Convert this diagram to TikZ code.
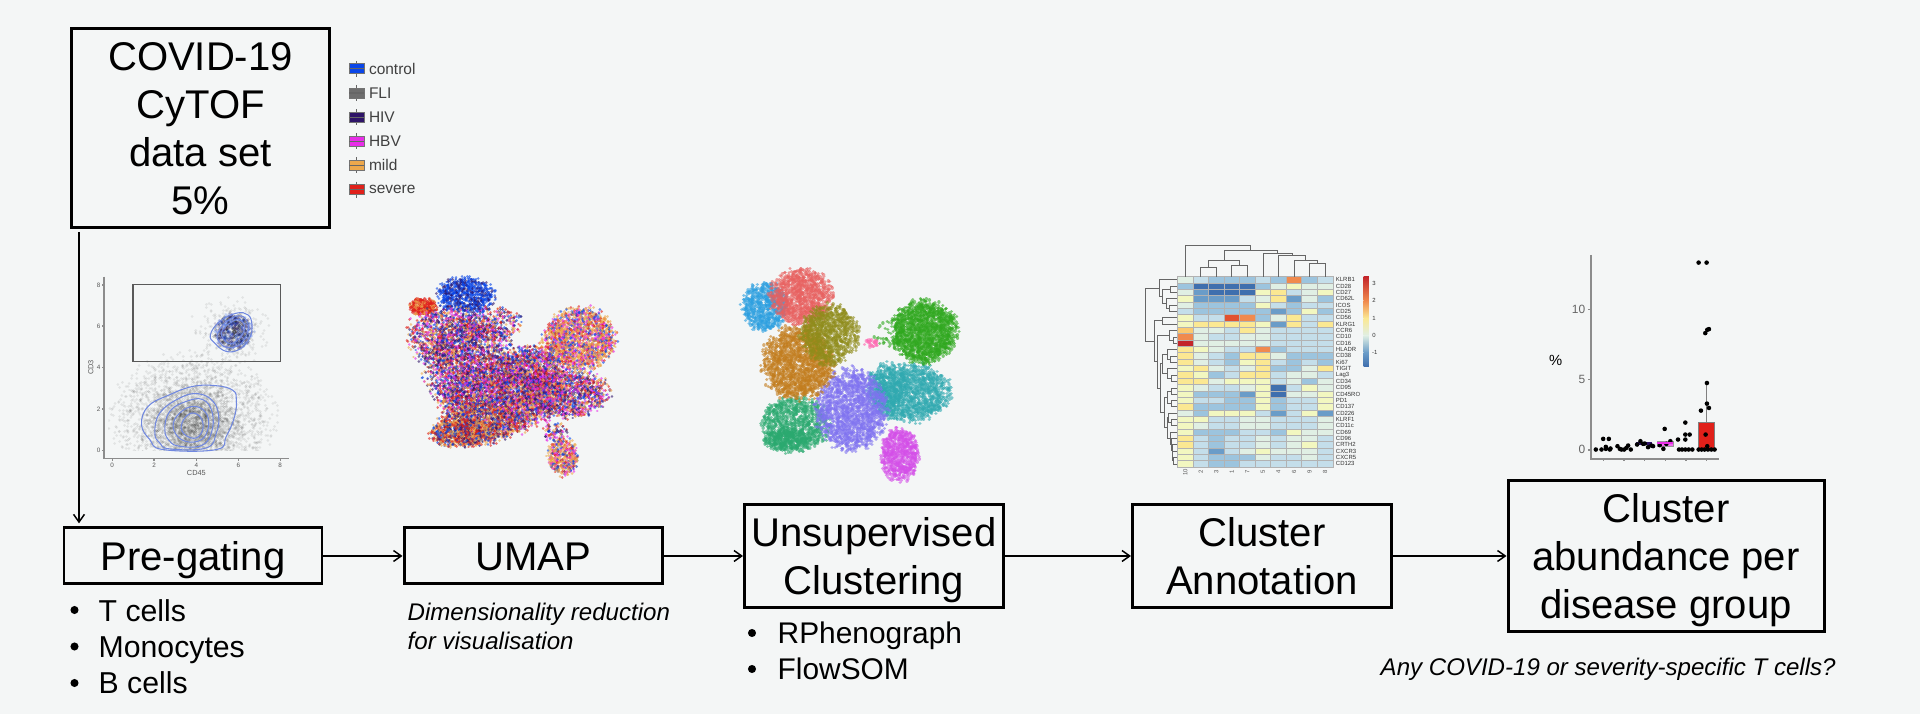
\documentclass[tikz,border=0pt]{standalone}
\usepackage{fontspec}
\setmainfont{Liberation Sans}
\usetikzlibrary{arrows.meta}
\definecolor{fond}{RGB}{244,246,246}
\definecolor{legbleu}{RGB}{10,70,232}
\definecolor{leggris}{RGB}{110,110,110}
\definecolor{legindigo}{RGB}{46,20,104}
\definecolor{legmagenta}{RGB}{232,45,232}
\definecolor{legorange}{RGB}{237,168,76}
\definecolor{legrouge}{RGB}{224,32,26}
\definecolor{contour}{RGB}{112,136,224}
\definecolor{clbleu}{RGB}{43,159,224}
\definecolor{clrouge}{RGB}{232,96,95}
\definecolor{clbrun}{RGB}{194,124,28}
\definecolor{clolive}{RGB}{143,140,26}
\definecolor{clvert}{RGB}{47,168,30}
\definecolor{clteal}{RGB}{47,169,176}
\definecolor{clviolet}{RGB}{127,114,240}
\definecolor{clmer}{RGB}{42,169,111}
\definecolor{clmauve}{RGB}{212,77,232}
\definecolor{clrose}{RGB}{255,102,176}
\definecolor{hma}{HTML}{3F6FAE}
\definecolor{hmb}{HTML}{6A9CC8}
\definecolor{hmc}{HTML}{9CC4DE}
\definecolor{hmd}{HTML}{C4DEEA}
\definecolor{hme}{HTML}{E0EFE4}
\definecolor{hmf}{HTML}{F2F7C0}
\definecolor{hmg}{HTML}{FBE892}
\definecolor{hmh}{HTML}{FBC96F}
\definecolor{hmi}{HTML}{F08A4E}
\definecolor{hmj}{HTML}{E2512F}
\definecolor{hmk}{HTML}{C3252A}
\newcommand{\melange}{legbleu,legrouge,legindigo,legmagenta,legorange}
\newcommand{\sombre}{legindigo,legrouge,legbleu,legindigo,legorange,legmagenta}
\newcommand{\clair}{legorange,legrouge,legorange,legbleu,legorange,legmagenta}
\newcommand{\chaud}{legrouge,legorange,legindigo,legrouge,legorange,legbleu}
\newcommand{\taille}{0.95pt}
\newcommand{\tours}{5}
\newcommand{\cale}{\rule{0pt}{0.39cm}}
% cx, cy, rx, ry, couleurs, points par lot
\newcommand{\nuage}[6]{%
  \foreach \tour in {1,...,\tours}{%
    \foreach \coul in #5{%
      \draw[\coul, line cap=round, line width=\taille]
        \foreach \k [evaluate=\k as \ang using 360*rnd, evaluate=\k as \ray using sqrt(rnd)*(0.78+0.30*rnd)] in {1,...,#6}{
          ({#1+#3*\ray*cos(\ang)},{#2+#4*\ray*sin(\ang)}) -- ++(0.01pt,0)
        };
    }}}
\tikzset{
  zoomplot/.style={x=0.0033333cm, y=-0.0033333cm},
  boite/.style={draw, line width=0.85pt, inner sep=0pt, align=center, font=\fontsize{11.4}{13.66}\selectfont,
    execute at begin node={\cale}, execute at end node={\rule[-0.10cm]{0pt}{0pt}}},
  fleche/.style={line width=0.42pt, -{Straight Barb[length=2.2pt,width=3.1pt]}},
  liste/.style={anchor=base west, inner sep=0pt, font=\fontsize{8.6}{10}\selectfont},
  puce/.style={circle, fill=black, inner sep=0pt, minimum size=2.3pt},
  remarque/.style={anchor=base west, inner sep=0pt, font=\fontsize{6.85}{8}\itshape\selectfont},
  legende/.style={anchor=west, inner sep=0pt, text=black!75, font=\fontsize{4.4}{5}\selectfont},
  petit/.style={inner sep=0pt, text=black!65, font=\fontsize{1.8}{2}\selectfont},
  axe/.style={draw=black!45, line width=0.4pt},
  dendro/.style={draw=black!60, line width=0.25pt},
  nuageux/.style={draw=contour, line width=0.3pt}
}

\begin{document}
\begin{tikzpicture}
    \fill[fond] (0,0) rectangle (19.2,7.14);
    \useasboundingbox (0,0) rectangle (19.2,7.14);

    % boites
    \node[boite, minimum width=2.58cm, minimum height=1.99cm] (covid) at (2.005,5.86) {\cale COVID-19\\CyTOF\\data set\\5\%};
    \node[boite, minimum width=2.58cm, minimum height=0.56cm] (pregating) at (1.93,1.58) {Pre-gating};
    \node[boite, minimum width=2.58cm, minimum height=0.56cm] (umap) at (5.33,1.58) {UMAP};
    \node[boite, minimum width=2.59cm, minimum height=1.03cm] (clustering) at (8.74,1.58) {\cale Unsupervised\\Clustering};
    \node[boite, minimum width=2.59cm, minimum height=1.03cm] (annotation) at (12.62,1.58) {\cale Cluster\\Annotation};
    \node[boite, minimum width=3.16cm, minimum height=1.51cm] (abundance) at (16.66,1.58) {\cale Cluster\\abundance per\\disease group};

    % fleches
    \coordinate (depart) at (0.79,4.82);
    \draw[fleche, shorten >=0.9pt] (depart) -- (depart |- pregating.north);
    \draw[fleche] (pregating) -- (umap);
    \draw[fleche] (umap) -- (clustering);
    \draw[fleche] (clustering) -- (annotation);
    \draw[fleche] (annotation) -- (abundance);

    % listes
    \node[puce] (pt) at (0.745,1.04) {};
    \node[liste] (tcells) at (0.98,0.92) {T cells};
    \node[puce] (pm) at (0.745,0.675) {};
    \node[liste] (monocytes) at (0.98,0.56) {Monocytes};
    \node[puce] (pb) at (0.745,0.31) {};
    \node[liste] (bcells) at (0.98,0.205) {B cells};
    \node[puce] (pr) at (7.52,0.81) {};
    \node[liste, font=\fontsize{8.5}{10}\selectfont] (rphenograph) at (7.77,0.705) {RPhenograph};
    \node[puce] (pf) at (7.52,0.45) {};
    \node[liste, font=\fontsize{8.5}{10}\selectfont] (flowsom) at (7.77,0.345) {FlowSOM};
    \node[remarque] (dimension) at (4.07,0.935) {Dimensionality reduction};
    \node[remarque] (visu) at (4.07,0.645) {for visualisation};
    \node[remarque] (question) at (13.80,0.38) {Any COVID-19 or severity-specific T cells?};

    % legende
    \begin{scope}[shift={(0.6,7.14)}, zoomplot]
      \foreach \nom/\teinte [count=\i] in {control/legbleu, FLI/leggris, HIV/legindigo, HBV/legmagenta, mild/legorange, severe/legrouge}{
        \pgfmathsetmacro{\yy}{207+72.6*(\i-1)}
        \draw[black!60, line width=0.2pt] (892,\yy-24) -- (892,\yy+24);
        \filldraw[fill=\teinte, draw=black!55, line width=0.25pt] (870,\yy-15) rectangle (915,\yy+15);
        \draw[black!60, line width=0.3pt] (870,\yy) -- (915,\yy);
        \node[legende] (leg\nom) at (927,\yy) {\nom};
      }
    \end{scope}

    % pre-gating
    \begin{scope}[shift={(0.70,4.54)}, zoomplot]
      \pgfmathsetseed{31}
      \renewcommand{\taille}{0.85pt}
      \renewcommand{\tours}{25}
      \begin{scope}[draw opacity=0.07]
        \begin{scope}
          \clip (115,250) rectangle (640,574);
          \nuage{370}{470}{250}{190}{{black}}{70}
          \nuage{370}{490}{150}{125}{{black}}{70}
          \nuage{375}{500}{85}{75}{{black}}{35}
        \end{scope}
        \nuage{480}{215}{125}{105}{{black}}{8}
        \begin{scope}[draw opacity=0.2]
          \nuage{492}{215}{58}{55}{{legindigo,legbleu,black}}{10}
        \end{scope}
      \end{scope}
      \draw[black!65, line width=0.4pt] (190,73) rectangle (633,305);
      \draw[nuageux] plot[smooth cycle, tension=0.7] coordinates {(215,495) (235,440) (300,405) (370,380) (440,378) (490,392) (500,420) (495,470) (470,530) (440,570) (280,570) (240,540)};
      \draw[nuageux] plot[smooth cycle, tension=0.7] coordinates {(255,520) (270,460) (330,415) (385,402) (430,425) (447,470) (440,520) (410,565) (300,568) (270,550)};
      \draw[nuageux] plot[smooth cycle, tension=0.7] coordinates {(285,510) (300,455) (350,425) (400,420) (428,460) (425,520) (395,558) (330,560) (300,545)};
      \draw[nuageux] plot[smooth cycle, tension=0.7] coordinates {(310,500) (330,460) (375,440) (412,465) (413,515) (385,545) (335,540)};
      \draw[nuageux] plot[smooth cycle, tension=0.7] coordinates {(335,495) (360,462) (390,470) (400,505) (380,535) (345,525)};
      \draw[nuageux] plot[smooth cycle, tension=0.7] coordinates {(422,225) (450,185) (500,160) (535,165) (547,195) (540,235) (510,268) (470,275) (435,250)};
      \draw[nuageux] plot[smooth cycle, tension=0.7] coordinates {(443,225) (465,190) (505,168) (530,180) (535,215) (510,255) (470,262) (448,245)};
      \draw[nuageux] plot[smooth cycle, tension=0.7] coordinates {(455,220) (480,190) (510,180) (525,205) (505,240) (475,250)};
      \draw[black!70, line width=0.25pt] (494,216) circle (0.5pt);
      \draw[axe] (102,50) -- (102,597) -- (658,597);
      \foreach \v/\x in {0/127, 2/253, 4/380, 6/506, 8/632}{
        \draw[axe] (\x,597) -- (\x,603);
        \node[petit] (gx\v) at (\x,617) {\v};
      }
      \foreach \v/\y in {0/572, 2/448, 4/323, 6/199, 8/75}{
        \draw[axe] (102,\y) -- (96,\y);
        \node[petit] (gy\v) at (86,\y) {\v};
      }
      \node[petit, font=\fontsize{2.1}{2.4}\selectfont] (cdx) at (380,640) {CD45};
      \node[petit, rotate=90, font=\fontsize{2.1}{2.4}\selectfont] (cdy) at (63,323) {CD3};
    \end{scope}

    % umap
    \begin{scope}[shift={(3.90,4.54)}, zoomplot, draw opacity=0.6]
      \pgfmathsetseed{7}
      \renewcommand{\taille}{0.8pt}
      \nuage{230}{105}{90}{55}{{legbleu,legbleu,legbleu,legindigo}}{42}
      \nuage{100}{140}{42}{28}{{legrouge,legrouge,legrouge,legorange}}{20}
      \nuage{170}{230}{120}{95}{\melange}{40}
      \nuage{240}{320}{140}{155}{\sombre}{70}
      \nuage{320}{410}{170}{120}{\melange}{85}
      \nuage{270}{490}{130}{65}{\chaud}{30}
      \nuage{310}{190}{90}{50}{\melange}{14}
      \nuage{420}{380}{120}{115}{\melange}{50}
      \nuage{530}{400}{130}{75}{\melange}{55}
      \nuage{430}{320}{85}{70}{\melange}{20}
      \nuage{575}{235}{105}{95}{\clair}{62}
      \nuage{500}{250}{55}{65}{\clair}{7}
      \nuage{215}{520}{100}{45}{\chaud}{28}
      \nuage{495}{520}{40}{32}{\melange}{4}
      \nuage{520}{590}{48}{60}{\clair}{17}
    \end{scope}

    % clusters
    \begin{scope}[shift={(7.30,4.54)}, zoomplot, draw opacity=0.6]
      \pgfmathsetseed{19}
      \nuage{105}{140}{70}{75}{{clbleu}}{150}
      \nuage{215}{110}{96}{85}{{clrouge}}{235}
      \nuage{195}{495}{105}{85}{{clmer}}{200}
      \nuage{170}{540}{72}{38}{{clmer}}{55}
      \nuage{540}{400}{125}{88}{{clteal}}{305}
      \nuage{470}{380}{60}{75}{{clteal}}{55}
      \nuage{365}{450}{108}{125}{{clviolet}}{335}
      \nuage{205}{310}{108}{115}{{clbrun}}{345}
      \nuage{300}{225}{88}{92}{{clolive}}{210}
      \nuage{585}{215}{100}{96}{{clvert}}{345}
      \nuage{480}{220}{45}{50}{{clvert}}{10}
      \nuage{510}{585}{58}{80}{{clmauve}}{150}
      \nuage{425}{250}{22}{13}{{clrose}}{6}
    \end{scope}

    % heatmap
    \begin{scope}[shift={(11.30,4.84)}, zoomplot]
      \foreach \nom/\vals [count=\r] in {
        KLRB1/{e,d,c,c,c,d,c,i,c,d}, CD28/{c,a,a,a,a,c,e,f,e,e}, CD27/{e,b,a,a,a,f,g,d,e,f}, CD62L/{f,b,b,b,d,e,g,b,e,c},
        ICOS/{e,c,c,c,c,f,d,c,d,d}, CD25/{d,c,c,c,c,c,b,c,f,c}, CD56/{f,d,d,j,i,c,e,g,d,d}, KLRG1/{f,g,g,g,g,f,b,g,d,g},
        CCR6/{h,e,e,d,g,e,d,d,d,d}, CD10/{i,e,d,d,e,e,d,d,d,d}, CD16/{k,e,e,e,e,e,d,d,d,d}, HLADR/{g,f,e,d,d,i,c,d,d,d},
        CD38/{g,e,d,c,g,g,e,c,c,c}, Ki67/{g,e,d,c,f,g,d,c,d,c}, TIGIT/{f,g,e,d,e,g,c,c,e,g}, Lag3/{g,f,c,d,g,g,d,e,e,d},
        CD34/{g,g,e,f,f,f,d,e,c,e}, CD95/{f,e,d,d,e,f,a,d,f,e}, CD45RO/{f,c,c,c,b,f,a,e,e,f}, PD1/{f,d,d,c,c,f,c,d,d,f},
        CD137/{g,c,c,c,c,f,c,d,d,f}, CD226/{e,c,f,f,f,d,b,d,f,b}, KLRF1/{f,f,d,d,e,e,d,d,d,e}, CD11c/{f,e,d,d,e,e,d,d,d,e},
        CD69/{f,c,c,c,d,d,c,f,e,e}, CD96/{g,d,c,d,d,e,d,e,e,d}, CRTH2/{g,d,c,d,d,e,d,e,f,d}, CXCR3/{f,d,b,d,e,f,e,e,e,d},
        CXCR5/{f,d,c,c,c,e,d,d,e,d}, CD123/{f,d,c,c,d,d,d,d,d,d}}{
        \foreach \v [count=\c] in \vals{
          \filldraw[fill=hm\v, draw=black!30, line width=0.22pt] ({143+46.7*(\c-1)},{140+19.1*(\r-1)}) rectangle +(46.7,19.1);
        }
        \node[petit, anchor=west, text=black!80, font=\fontsize{1.7}{2}\selectfont] (rang\nom) at (617,{149.5+19.1*(\r-1)}) {\nom};
      }
      \foreach \n [count=\c] in {10,2,3,1,7,5,4,6,9,8}{
        \node[petit, rotate=90, font=\fontsize{1.7}{2}\selectfont] (col\c) at ({166+46.7*(\c-1)},728) {\n};
      }
      % arbre du haut
      \foreach \xa/\ya/\ym/\xb/\yb in {213/140/113/260/140, 306/140/107/353/140, 236/113/92/330/107, 540/140/100/587/140,
        493/140/92/563/100, 446/140/77/528/92, 400/140/70/487/77, 283/92/63/443/70, 166/140/45/363/63}{
        \draw[dendro] (\xa,\ya) |- (\xb,\ym) -- (\xb,\yb);
      }
      % arbre de gauche
      \foreach \xa/\ya/\xm/\xb/\yb in {140/169/122/140/188, 140/226/118/140/245, 140/207/108/118/235, 122/178/98/108/221,
        140/150/88/98/200, 140/264/98/140/283, 140/322/130/140/341, 140/303/118/130/331, 140/379/122/140/398, 140/360/112/122/388,
        140/436/125/140/455, 140/417/112/125/445, 112/374/98/112/431, 140/475/125/140/494, 140/513/125/140/532, 125/484/112/125/522,
        140/570/125/140/589, 140/551/115/125/579, 140/685/130/140/704, 140/666/128/130/694, 140/646/127/128/680, 140/627/125/127/663,
        140/608/122/125/645, 115/565/112/122/626, 112/503/104/112/595, 98/402/92/104/549, 118/317/82/92/475, 98/273/72/82/396, 88/175/47/72/335}{
        \draw[dendro] (\xa,\ya) -| (\xm,\yb) -- (\xb,\yb);
      }
      % barre de couleur
      \foreach \haut/\bas/\ya/\yb in {hmk/hmi/140/213, hmi/hmg/213/265, hmg/hme/265/317, hme/hmb/317/369, hmb/hma/369/410}{
        \shade[top color=\haut, bottom color=\bas] (702,\ya) rectangle (718,\yb);
      }
      \foreach \v/\y in {3/160, 2/213, 1/265, 0/317, -1/369}{
        \node[petit, anchor=west, text=black!80, font=\fontsize{1.7}{2}\selectfont] (cb\y) at (726,\y) {\v};
      }
    \end{scope}

    % abondance
    \begin{scope}[shift={(15.20,4.74)}, zoomplot]
      \filldraw[fill=legrouge, draw=black!50, line width=0.3pt] (537,548) rectangle (585,631);
      \draw[black!50, line width=0.4pt] (561,548) -- (561,430);
      \fill[legindigo] (350,608) rectangle (398,616);
      \filldraw[fill=legmagenta!70, draw=black!40, line width=0.2pt] (413,604) rectangle (460,621);
      \foreach \x/\y in {228/630, 245/630, 258/628, 270/630, 250/598, 267/598, 258/622, 272/627,
        293/620, 305/630, 313/630, 325/618, 333/630, 300/628, 320/625,
        352/615, 362/605, 375/612, 385/623, 395/618, 400/620, 370/613,
        420/617, 435/568, 431/628, 452/605, 440/613,
        475/600, 497/549, 497/600, 497/585, 510/585, 478/630, 487/630, 497/630, 507/630, 518/630,
        537/68, 561/68, 557/280, 563/270, 568/268, 562/430, 562/492, 544/513, 568/505, 558/585, 563/620,
        537/630, 546/630, 555/630, 565/630, 575/630, 585/630}{
        \fill[black] (\x,\y) circle (0.65pt);
      }
      \draw[legmagenta, line width=0.7pt] (413,610) -- (460,610);
      \draw[axe, line width=0.5pt] (214,45) -- (214,658) -- (598,658);
      \foreach \x in {251,313,375,437,499,561}{
        \draw[axe] (\x,658) -- (\x,666);
      }
      \foreach \v/\y in {10/209, 5/420, 0/631}{
        \draw[axe] (214,\y) -- (205,\y);
        \node[anchor=east, inner sep=0pt, text=black!60, font=\fontsize{3.4}{4}\selectfont] (ab\v) at (198,\y) {\v};
      }
      \node[inner sep=0pt, font=\fontsize{4.2}{5}\selectfont] (pourcent) at (107,362) {\%};
    \end{scope}
\end{tikzpicture}
\end{document}
